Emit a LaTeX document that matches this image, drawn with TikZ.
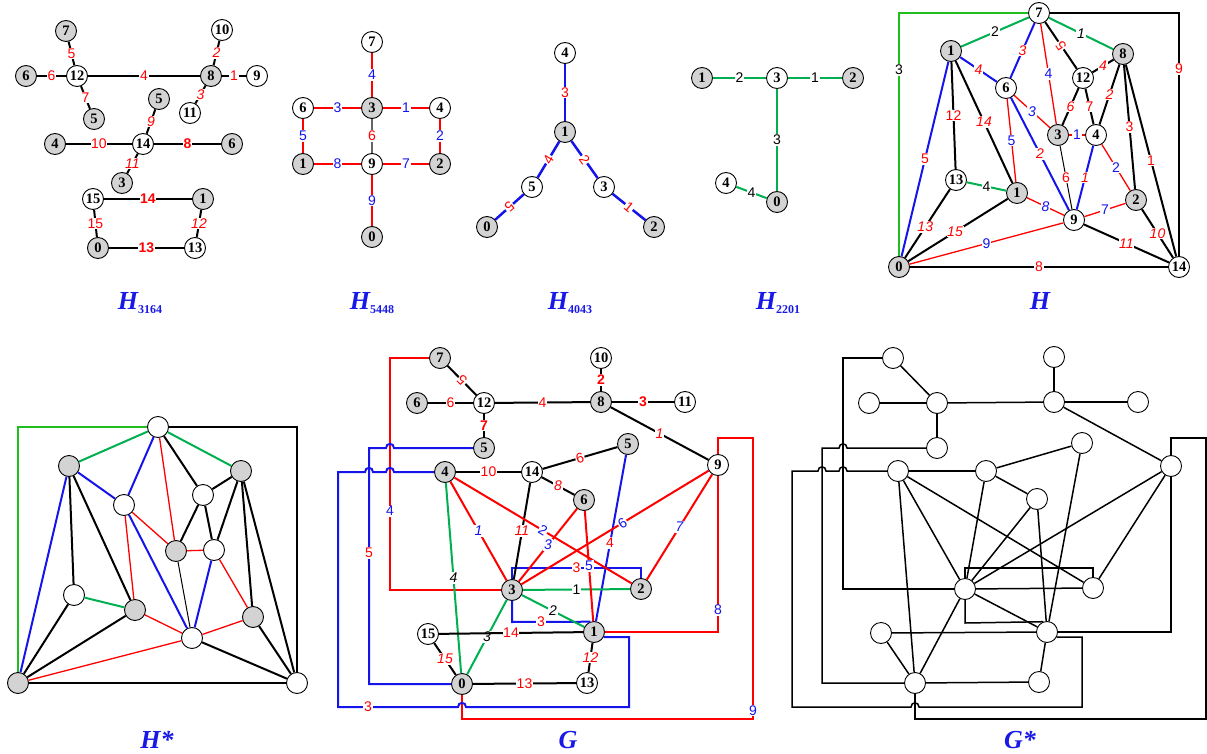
\documentclass[tikz,border=0pt]{standalone}
\usepackage{fontspec}
\setmainfont{Liberation Serif}
\setsansfont{Liberation Sans}
\definecolor{ngray}{RGB}{211,211,211}
\definecolor{eblue}{RGB}{20,20,235}
\definecolor{egreen}{RGB}{0,176,80}
\definecolor{fgreen}{RGB}{30,190,30}
\definecolor{tblue}{RGB}{25,25,230}
\begin{document}
\begin{tikzpicture}[x=1pt,y=-1pt,
  vtx/.style={circle,draw,line width=0.9pt,minimum size=21pt,inner sep=0pt,font=\fontsize{14.5}{14.5}\selectfont\bfseries},
  gv/.style={vtx,fill=ngray}, wv/.style={vtx,fill=white},
  lab/.style={fill=white,inner sep=0.7pt,font=\sffamily\fontsize{14}{14}\selectfont},
  lR/.style={lab,text=red}, lB/.style={lab,text=eblue}, lK/.style={lab,text=black},
  lI/.style={font=\sffamily\itshape\fontsize{14}{14}\selectfont},
  lBf/.style={font=\sffamily\bfseries\fontsize{14}{14}\selectfont},
  eK/.style={draw=black,line width=2pt},
  eR/.style={draw=red,line width=2pt},
  eRt/.style={draw=red,line width=1.3pt},
  eB/.style={draw=eblue,line width=2pt},
  eG/.style={draw=egreen,line width=2pt},
  eF/.style={draw=fgreen,line width=2pt},
  eS/.style={draw=black,line width=1.5pt},
  ttl/.style={text=tblue,anchor=base,font=\fontsize{26}{26}\selectfont\bfseries\itshape},
]
\useasboundingbox (0,0) rectangle (1207,754);

% ================= H3164 =================
\node[gv] (a7) at (66,31) {7};
\node[wv] (a12) at (77,76) {12};
\node[gv] (a6) at (26,76) {6};
\node[gv] (a5) at (94,119) {5};
\node[wv] (a10) at (222,30) {10};
\node[gv] (a8) at (211,76) {8};
\node[wv] (a9) at (257,76) {9};
\node[wv] (a11) at (190,113) {11};
\node[gv] (a5b) at (159,99) {5};
\node[gv] (a4) at (55,144) {4};
\node[wv] (a14) at (143,144) {14};
\node[gv] (a6b) at (232,144) {6};
\node[gv] (a3) at (122,183) {3};
\node[wv] (a15) at (93,199) {15};
\node[gv] (a1) at (203,199) {1};
\node[gv] (a0) at (98,248) {0};
\node[wv] (a13) at (195,248) {13};
\draw[eK] (a7) -- node[lR]{5} (a12);
\draw[eK] (a6) -- node[lR]{6} (a12);
\draw[eK] (a12) -- node[lR]{7} (a5);
\draw[eK] (a12) -- node[lR]{4} (a8);
\draw[eK] (a10) -- node[lR,lI]{2} (a8);
\draw[eK] (a8) -- node[lR]{1} (a9);
\draw[eK] (a8) -- node[lR,lI]{3} (a11);
\draw[eK] (a5b) -- node[lR,lI]{9} (a14);
\draw[eK] (a4) -- node[lR]{10} (a14);
\draw[eK] (a14) -- node[lR,lBf]{8} (a6b);
\draw[eK] (a14) -- node[lR,lI]{11} (a3);
\draw[eK] (a15) -- node[lR,lBf]{14} (a1);
\draw[eK] (a15) -- node[lR]{15} (a0);
\draw[eK] (a1) -- node[lR,lI]{12} (a13);
\draw[eK] (a0) -- node[lR,lBf]{13} (a13);
\node[ttl] (tA) at (140,309) {H\raisebox{-4pt}{\fontsize{12}{12}\selectfont\upshape 3164}};

% ================= H5448 =================
\node[wv] (b7) at (372,42) {7};
\node[wv] (b6) at (303,108) {6};
\node[gv] (b3) at (372,108) {3};
\node[wv] (b4) at (440,108) {4};
\node[gv] (b1) at (303,164) {1};
\node[wv] (b9) at (372,164) {9};
\node[gv] (b2) at (440,164) {2};
\node[gv] (b0) at (372,237) {0};
\draw[eR] (b7) -- node[lB]{4} (b3);
\draw[eR] (b6) -- node[lB]{3} (b3);
\draw[eR] (b3) -- node[lB]{1} (b4);
\draw[eR] (b6) -- node[lB]{5} (b1);
\draw[eR] (b4) -- node[lB]{2} (b2);
\draw[draw=black!60,line width=1.5pt] (b3) -- node[lR]{6} (b9);
\draw[eR] (b1) -- node[lB]{8} (b9);
\draw[eR] (b9) -- node[lB]{7} (b2);
\draw[eR] (b9) -- node[lB]{9} (b0);
\node[ttl] (tB) at (372,309) {H\raisebox{-4pt}{\fontsize{12}{12}\selectfont\upshape 5448}};

% ================= H4043 =================
\node[wv] (c4) at (565,53) {4};
\node[gv] (c1) at (565,132) {1};
\node[wv] (c5) at (532,187) {5};
\node[gv] (c0) at (487,227) {0};
\node[wv] (c3) at (604,187) {3};
\node[gv] (c2) at (654,227) {2};
\draw[eB,line width=2.5pt] (c4) -- node[lR]{3} (c1);
\draw[eB,line width=2.5pt] (c1) -- node[lR,sloped]{4} (c5);
\draw[eB,line width=2.5pt] (c5) -- node[lR,rotate=220]{5} (c0);
\draw[eB,line width=2.5pt] (c1) -- node[lR,sloped]{2} (c3);
\draw[eB,line width=2.5pt] (c3) -- node[lR,sloped]{1} (c2);
\node[ttl] (tC) at (570,309) {H\raisebox{-4pt}{\fontsize{12}{12}\selectfont\upshape 4043}};

% ================= H2201 =================
\node[gv] (d1) at (702,78) {1};
\node[wv] (d3) at (777,78) {3};
\node[gv] (d2) at (853,78) {2};
\node[wv] (d4) at (726,183) {4};
\node[gv] (d0) at (777,202) {0};
\draw[eG] (d1) -- node[lK]{2} (d3);
\draw[eG] (d3) -- node[lK]{1} (d2);
\draw[eG] (d3) -- node[lK]{3} (d0);
\draw[eG] (d4) -- node[lK]{4} (d0);
\node[ttl] (tD) at (778,309) {H\raisebox{-4pt}{\fontsize{12}{12}\selectfont\upshape 2201}};

% ================= H =================
\node[wv] (e7) at (1039,13) {7};
\node[gv] (e1) at (951,51) {1};
\node[gv] (e8) at (1123,54) {8};
\node[wv] (e6) at (1006,88) {6};
\node[wv] (e12) at (1083,78) {12};
\node[gv] (e3) at (1058,135) {3};
\node[wv] (e4) at (1096,135) {4};
\node[wv] (e13) at (956,180) {13};
\node[gv] (e1b) at (1017,193) {1};
\node[gv] (e2) at (1136,200) {2};
\node[wv] (e9) at (1074,220) {9};
\node[gv] (e0) at (899,267) {0};
\node[wv] (e14) at (1179,267) {14};
\draw[eF] (e0) -- node[lK,pos=.765]{3} (e0 |- e7) -- (e7);
\draw[eK] (e7) -- (e14 |- e7) -- node[lR,pos=.23]{9} (e14);
\draw[eG] (e1) -- node[lK]{2} (e7);
\draw[eG] (e7) -- node[lK,lI]{1} (e8);
\draw[eB] (e7) -- node[lR,lI]{3} (e6);
\draw[eRt] (e7) -- node[lB]{4} (e3);
\draw[eK] (e7) -- node[lR,rotate=124]{5} (e12);
\draw[eK] (e12) -- node[lR,lI]{4} (e8);
\draw[eB] (e1) -- node[lR,lI]{4} (e6);
\draw[eB] (e1) -- node[lR]{5} (e0);
\draw[eK] (e1) -- node[lR]{12} (e13);
\draw[eK] (e1) -- node[lR,lI]{14} (e1b);
\draw[eRt] (e6) -- node[lB,lI]{3} (e3);
\draw[eRt] (e6) -- node[lB]{5} (e1b);
\draw[eB] (e6) -- node[lR,lI]{2} (e9);
\draw[eK] (e12) -- node[lR,lI]{6} (e3);
\draw[eK] (e12) -- node[lR]{7} (e4);
\draw[eK] (e8) -- node[lR,lI]{2} (e4);
\draw[eRt] (e3) -- node[lB]{1} (e4);
\draw[draw=black,line width=1pt] (e3) -- node[lR]{6} (e9);
\draw[eB] (e4) -- node[lR,lI]{1} (e9);
\draw[eRt] (e4) -- node[lB]{2} (e2);
\draw[eK] (e8) -- node[lR]{3} (e2);
\draw[eK] (e8) -- node[lR]{1} (e14);
\draw[eG] (e13) -- node[lK]{4} (e1b);
\draw[eK] (e13) -- node[lR,lI,pos=.55]{13} (e0);
\draw[eK] (e1b) -- node[lR,lI,pos=.53]{15} (e0);
\draw[eRt] (e1b) -- node[lB,lI]{8} (e9);
\draw[eRt] (e9) -- node[lB]{7} (e2);
\draw[eRt] (e9) -- node[lB]{9} (e0);
\draw[eK] (e9) -- node[lR,lI]{11} (e14);
\draw[eK] (e2) -- node[lR,lI]{10} (e14);
\draw[eK] (e0) -- node[lR]{8} (e14);
\node[ttl] (tH) at (1040,309) {H};

% ================= H* =================
\node[wv] (f7) at (158,427) {};
\node[gv] (f1) at (69,466) {};
\node[gv] (f8) at (241,471) {};
\node[wv] (f6) at (124,505) {};
\node[wv] (f12) at (203,495) {};
\node[gv] (f3) at (176,551) {};
\node[wv] (f4) at (214,550) {};
\node[wv] (f13) at (74,595) {};
\node[gv] (f1b) at (135,610) {};
\node[gv] (f2) at (253,617) {};
\node[wv] (f9) at (192,638) {};
\node[gv] (f0) at (18,683) {};
\node[wv] (f14) at (297,683) {};
\draw[eF] (f0) -- (f0 |- f7) -- (f7);
\draw[eK] (f7) -- (f14 |- f7) -- (f14);
\draw[eG] (f1) -- (f7);
\draw[eG] (f7) -- (f8);
\draw[eB] (f7) -- (f6);
\draw[eRt] (f7) -- (f3);
\draw[eK] (f7) -- (f12);
\draw[eK] (f12) -- (f8);
\draw[eB] (f1) -- (f6);
\draw[eB] (f1) -- (f0);
\draw[eK] (f1) -- (f13);
\draw[eK] (f1) -- (f1b);
\draw[eRt] (f6) -- (f3);
\draw[eRt] (f6) -- (f1b);
\draw[eB] (f6) -- (f9);
\draw[eK] (f12) -- (f3);
\draw[eK] (f12) -- (f4);
\draw[eK] (f8) -- (f4);
\draw[eRt] (f3) -- (f4);
\draw[draw=black,line width=1pt] (f3) -- (f9);
\draw[eB] (f4) -- (f9);
\draw[eRt] (f4) -- (f2);
\draw[eK] (f8) -- (f2);
\draw[eK] (f8) -- (f14);
\draw[eG] (f13) -- (f1b);
\draw[eK] (f13) -- (f0);
\draw[eK] (f1b) -- (f0);
\draw[eRt] (f1b) -- (f9);
\draw[eRt] (f9) -- (f2);
\draw[eRt] (f9) -- (f0);
\draw[eK] (f9) -- (f14);
\draw[eK] (f2) -- (f14);
\draw[eK] (f0) -- (f14);
\node[ttl] (tHs) at (157,748) {H*};

% ================= G =================
\node[gv] (g7) at (440,358) {7};
\node[wv] (g12) at (484,403) {12};
\node[gv] (g6a) at (417,403) {6};
\node[gv] (g5a) at (484,448) {5};
\node[wv] (g10) at (601,358) {10};
\node[gv] (g8) at (601,402) {8};
\node[wv] (g11) at (685,402) {11};
\node[gv] (g5b) at (628,444) {5};
\node[wv] (g9) at (718,465) {9};
\node[gv] (g4) at (445,472) {4};
\node[wv] (g14) at (532,472) {14};
\node[gv] (g6b) at (584,500) {6};
\node[gv] (g3) at (512,590) {3};
\node[gv] (g2) at (641,589) {2};
\node[gv] (g1) at (594,632) {1};
\node[wv] (g15) at (428,634) {15};
\node[gv] (g0) at (462,684) {0};
\node[wv] (g13) at (587,683) {13};
% red polylines
\draw[eR] (g3) -- (390,590) -- node[lB,pos=.34]{4} (390,358) -- (g7);
\draw[eR] (g0) -- (462,719) -- (753,719) -- node[lB,pos=.03]{9} (753,438) -- (718,438) -- (g9);
% blue
\draw[eB] (g5a) -- (394,448) .. controls (394,442.5) and (386,442.5) .. (386,448) -- (369,448) -- node[lR,pos=.445]{5} (369,684) -- (g0);
\draw[eB] (g4) -- (394,472) .. controls (394,466.5) and (386,466.5) .. (386,472) -- (373,472) .. controls (373,466.5) and (365,466.5) .. (365,472) -- (338,472) -- (338,707) -- node[lR,pos=.25]{3} (458,707) .. controls (458,701.5) and (466,701.5) .. (466,707) -- (629,707) -- (629,637) -- (g1.-28);
\draw[eB] (g3) -- (512,568) -- node[lR]{3} (641,568) -- (g2);
\draw[eB] (g3) -- (512,622) -- node[lR,pos=.37]{3} (g1.110);
\draw[eB] (g5b) -- node[lR,pos=.53]{4} (g1);
% green
\draw[eG] (g3) -- node[lK]{1} (g2);
\draw[eG] (g3) -- node[lK,lI]{2} (g1);
\draw[eG] (g3) -- node[lK,lI]{3} (g0);
\draw[eG] (g4) -- node[lK,lI]{4} (g0);
% black
\draw[eK] (g7) -- node[lR,rotate=135]{5} (g12);
\draw[eK] (g6a) -- node[lR]{6} (g12);
\draw[eK] (g12) -- node[lR,lBf]{7} (g5a);
\draw[eK] (g12) -- node[lR]{4} (g8);
\draw[eK] (g10) -- node[lR,lBf]{2} (g8);
\draw[eK] (g8) -- node[lR,lBf]{3} (g11);
\draw[eK] (g8) -- node[lR,lI]{1} (g9);
\draw[eK] (g5b) -- node[lR,rotate=196]{9} (g14);
\draw[eK] (g4) -- node[lR]{10} (g14);
\draw[eK] (g14) -- node[lR,lI]{8} (g6b);
\draw[eK] (g14) -- node[lR,lI]{11} (g3);
\draw[eK] (g15) -- node[lR]{14} (g1);
\draw[eK] (g15) -- node[lR,lI]{15} (g0);
\draw[eK] (g1) -- node[lR,lI]{12} (g13);
\draw[eK] (g0) -- node[lR]{13} (g13);
% red straight
\draw[eR] (g4) -- node[lB,lI]{1} (g3);
\draw[eR] (g4) -- node[lB,sloped]{2} (g2);
\draw[eR] (g3) -- node[lB,lI]{3} (g6b);
\draw[eR] (g6b) -- node[lB]{5} (g1);
\draw[eR] (g3) -- node[lB,sloped,pos=.54]{6} (g9);
\draw[eR] (g9) -- node[lB,lI]{7} (g2);
\draw[eR] (g1) -- (718,632) -- node[lB,pos=.14]{8} (g9);
\node[ttl] (tG) at (568,748) {G};

% ================= G* =================
\node[wv] (h7) at (893,358) {};
\node[wv] (h12) at (937,403) {};
\node[wv] (h6a) at (869,403) {};
\node[wv] (h5a) at (937,448) {};
\node[wv] (h10) at (1054,357) {};
\node[wv] (h8) at (1054,402) {};
\node[wv] (h11) at (1138,402) {};
\node[wv] (h9) at (1171,466) {};
\node[wv] (h4) at (898,471) {};
\node[wv] (h14) at (986,471) {};
\node[wv] (h5b) at (1082,443) {};
\node[wv] (h6b) at (1037,499) {};
\node[wv] (h3) at (965,589) {};
\node[wv] (h2) at (1093,588) {};
\node[wv] (h1) at (1047,632) {};
\node[wv] (h15) at (881,633) {};
\node[wv] (h0) at (915,683) {};
\node[wv] (h13) at (1039,682) {};
\draw[eS] (h3) -- (843,589) -- (843,358) -- (h7);
\draw[eS] (h0) -- (915,719) -- (1206,719) -- (1206,438) -- (1171,438) -- (h9);
\draw[eS] (h5a) -- (847,448) .. controls (847,442.5) and (839,442.5) .. (839,448) -- (822,448) -- (822,683) -- (h0);
\draw[eS] (h4) -- (847,471) .. controls (847,465.5) and (839,465.5) .. (839,471) -- (826,471) .. controls (826,465.5) and (818,465.5) .. (818,471) -- (792,471) -- (792,707) -- (911,707) .. controls (911,701.5) and (919,701.5) .. (919,707) -- (1082,707) -- (1082,637) -- (h1.-28);
\draw[eS] (h3) -- (965,568) -- (1093,568) -- (h2);
\draw[eS] (h3) -- (965,623) -- (h1.110);
\draw[eS] (h5b) -- (h1);
\draw[eS] (h3) -- (h2);
\draw[eS] (h3) -- (h1);
\draw[eS] (h3) -- (h0);
\draw[eS] (h4) -- (h0);
\draw[eS] (h7) -- (h12);
\draw[eS] (h6a) -- (h12);
\draw[eS] (h12) -- (h5a);
\draw[eS] (h12) -- (h8);
\draw[eS] (h10) -- (h8);
\draw[eS] (h8) -- (h11);
\draw[eS] (h8) -- (h9);
\draw[eS] (h5b) -- (h14);
\draw[eS] (h4) -- (h14);
\draw[eS] (h14) -- (h6b);
\draw[eS] (h14) -- (h3);
\draw[eS] (h15) -- (h1);
\draw[eS] (h15) -- (h0);
\draw[eS] (h1) -- (h13);
\draw[eS] (h0) -- (h13);
\draw[eS] (h4) -- (h3);
\draw[eS] (h4) -- (h2);
\draw[eS] (h3) -- (h6b);
\draw[eS] (h6b) -- (h1);
\draw[eS] (h3) -- (h9);
\draw[eS] (h9) -- (h2);
\draw[eS] (h1) -- (1171,632) -- (h9);
\node[ttl] (tGs) at (1020,748) {G*};
\end{tikzpicture}
\end{document}
